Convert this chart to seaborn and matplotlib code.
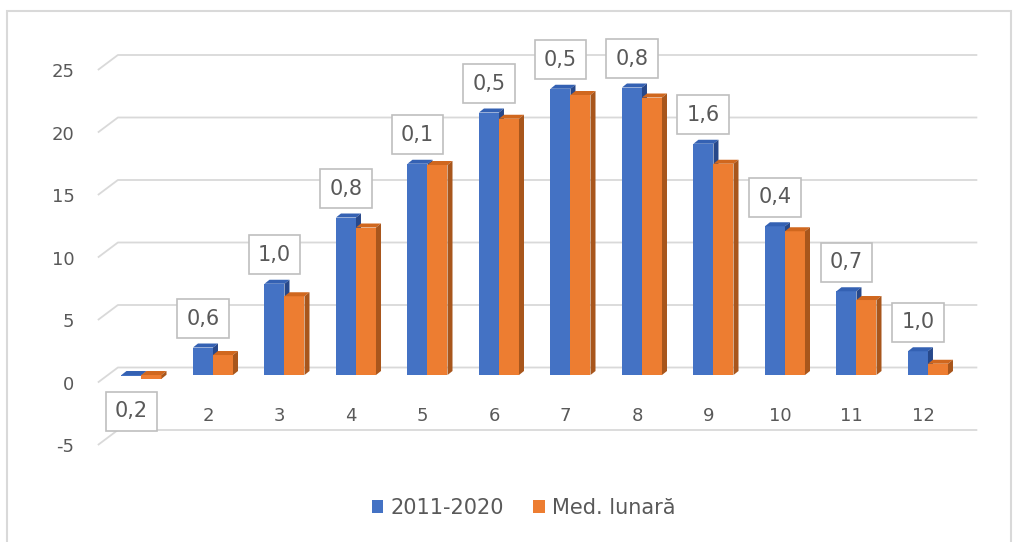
import pandas as pd
import seaborn as sns
import matplotlib.pyplot as plt
from matplotlib.patches import Polygon, Rectangle
from matplotlib.transforms import ScaledTranslation

# Monthly mean temperatures (°C)
months = [str(m) for m in range(1, 13)]
t_2011_2020 = [-0.1, 2.2, 7.3, 12.6, 16.9, 21.0, 22.9, 23.0, 18.5, 11.9, 6.7, 1.9]
med_lunara = [-0.3, 1.6, 6.3, 11.8, 16.8, 20.5, 22.4, 22.2, 16.9, 11.5, 6.0, 0.9]
series_names = ["2011-2020", "Med. lunară"]
y_ticks = [-5, 0, 5, 10, 15, 20, 25]

# difference between the two series, shown in the boxed labels
diffs = [round(a - b, 1) for a, b in zip(t_2011_2020, med_lunara)]

df = pd.DataFrame({
    "Luna": months * 2,
    "Serie": [series_names[0]] * len(months) + [series_names[1]] * len(months),
    "Temperatura": t_2011_2020 + med_lunara,
})

BLUE, ORANGE = "#4472C4", "#ED7D31"
CAP = {BLUE: "#3461B3", ORANGE: "#D0671E"}
SIDE = {BLUE: "#27488A", ORANGE: "#A8561C"}
TEXT = "#595959"
GRID = "#d9d9d9"

sns.set_style("white")
plt.rcParams["font.family"] = ["DejaVu Sans"]

fig = plt.figure(figsize=(10.19, 5.42), dpi=100)
ax = fig.add_axes([0.0785, 0.1605, 0.893, 0.7657])

sns.barplot(data=df, x="Luna", y="Temperatura", hue="Serie", order=months,
            hue_order=series_names, palette=[BLUE, ORANGE], width=0.56, gap=0,
            saturation=1, linewidth=0, ax=ax)

ax.set_xlim(-0.86, 11.867)
ax.set_ylim(-6.4, 26.8)

# pseudo-3D depth of the bars (data units)
DX, DY = 0.07, 0.32
bar_sets = [c for c in ax.containers if len(c) == len(months)]
for key, z, container in zip([BLUE, ORANGE], [2, 3], bar_sets):
    for p in container:
        x0, w = p.get_x(), p.get_width()
        y0, h = p.get_y(), p.get_height()
        lo, hi = min(y0, y0 + h), max(y0, y0 + h)
        p.set_zorder(z)
        ax.add_patch(Polygon([(x0, hi), (x0 + w, hi), (x0 + w + DX, hi + DY), (x0 + DX, hi + DY)],
                             closed=True, fc=CAP[key], ec="none", zorder=z + 0.1))
        ax.add_patch(Polygon([(x0 + w, lo), (x0 + w, hi), (x0 + w + DX, hi + DY), (x0 + w + DX, lo + DY)],
                             closed=True, fc=SIDE[key], ec="none", zorder=z + 0.1))

# back-wall gridlines with a slanted run onto the floor edge
DEPTH_Y = 0.6
X_FRONT, X_BACK, X_END = -0.61, -0.33, 11.69
for v in y_ticks:
    ax.plot([X_FRONT, X_BACK, X_END], [v - DEPTH_Y, v + DEPTH_Y, v + DEPTH_Y],
            color=GRID, lw=1.3, zorder=1, solid_capstyle="butt", clip_on=False)

# boxed difference labels above the 2011-2020 bars
for bar, val, d in zip(bar_sets[0], t_2011_2020, diffs):
    xc = bar.get_x() + bar.get_width() / 2
    off = 29 if val >= 0 else -35
    ax.annotate(f"{d:.1f}".replace(".", ","), xy=(xc, val), xytext=(0, off),
                textcoords="offset pixels", ha="center", va="center",
                fontsize=15, color=TEXT, zorder=6,
                bbox=dict(boxstyle="square,pad=0.45", fc="white", ec="#bfbfbf", lw=1.2))

# axes styling
for s in ax.spines.values():
    s.set_visible(False)
ax.spines["bottom"].set_position(("data", 0))
ax.set_yticks(y_ticks)
ax.set_yticklabels([str(v) for v in y_ticks])
ax.tick_params(axis="y", length=0, pad=4, labelsize=13, labelcolor=TEXT)
ax.tick_params(axis="x", length=0, pad=23, labelsize=13, labelcolor=TEXT)
ax.set_xlabel("")
ax.set_ylabel("")
ax.grid(False)
for lbl in ax.get_yticklabels():
    lbl.set_transform(lbl.get_transform() + ScaledTranslation(0, -7.5 / 100, fig.dpi_scale_trans))
xlabels = ax.get_xticklabels()
for lbl in xlabels:
    lbl.set_transform(lbl.get_transform() + ScaledTranslation(-5 / 100, 0, fig.dpi_scale_trans))
# the first month's label sits under the negative-value box
xlabels[0].set_visible(False)

sns.move_legend(ax, "center", bbox_to_anchor=(0.514, 1 - 508 / 542),
                bbox_transform=fig.transFigure, ncol=2, frameon=False, title=None,
                fontsize=15, labelcolor=TEXT, handlelength=0.55, handleheight=0.55,
                handletextpad=0.35, columnspacing=1.4)

# chart-area border
fig.patches.append(Rectangle((7 / 1019, -0.05), (1011 - 7) / 1019, 1.05 - 11 / 542,
                             transform=fig.transFigure, fill=False, ec=GRID, lw=1.5))

fig.savefig("out.png", dpi=100)
